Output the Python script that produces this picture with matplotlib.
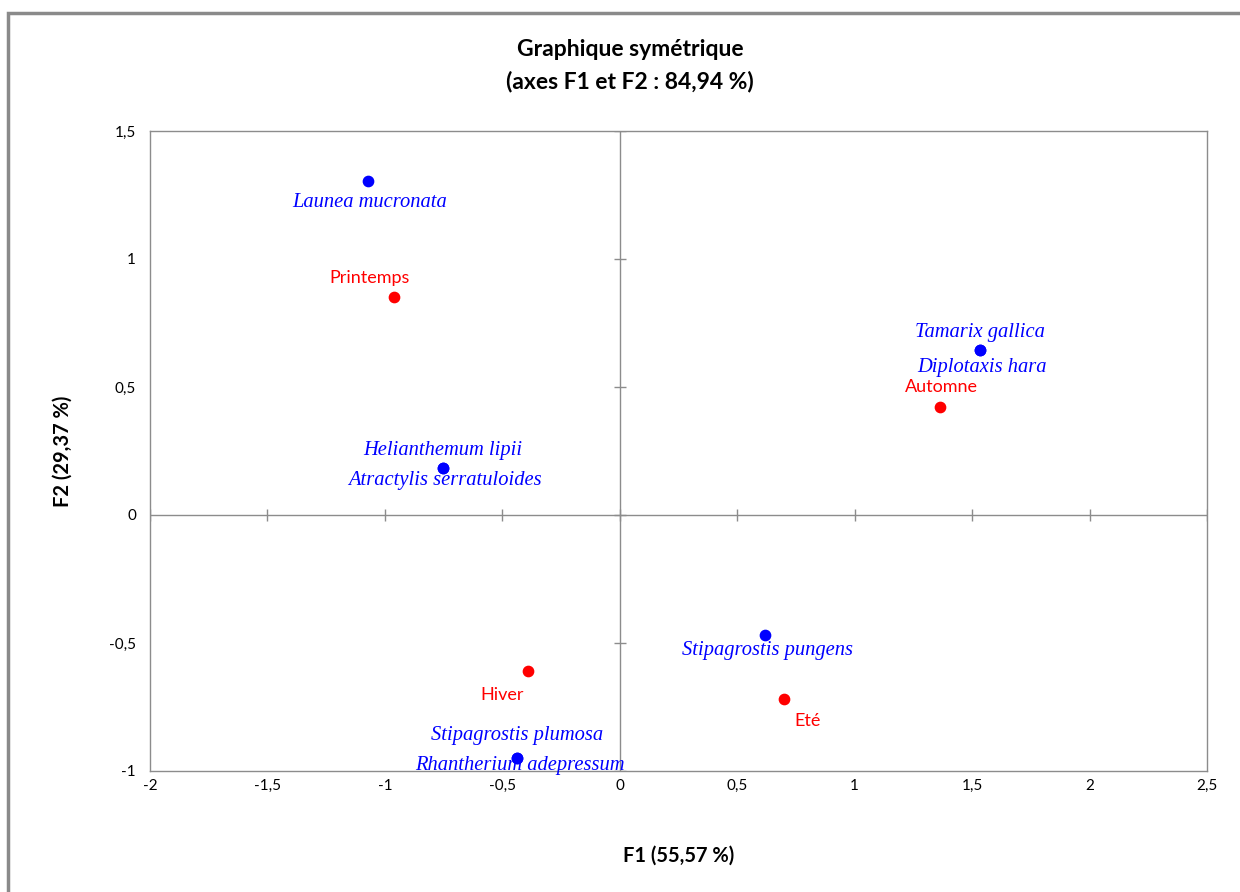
import matplotlib
matplotlib.use("Agg")
import matplotlib.pyplot as plt
import matplotlib.patches as mpatches

# species (columns) coordinates; coincident species share the same point
species = ["Launea mucronata", "Tamarix gallica", "Diplotaxis hara",
           "Helianthemum lipii", "Atractylis serratuloides", "Stipagrostis pungens",
           "Stipagrostis plumosa", "Rhantherium adepressum"]
species_f1 = [-1.072, 1.532, 1.532, -0.753, -0.753, 0.617, -0.438, -0.438]
species_f2 = [1.305, 0.645, 0.645, 0.184, 0.184, -0.469, -0.949, -0.949]

# seasons (rows) coordinates
seasons = ["Printemps", "Automne", "Hiver", "Eté"]
seasons_f1 = [-0.962, 1.362, -0.391, 0.698]
seasons_f2 = [0.852, 0.422, -0.609, -0.719]

xticks = [-2, -1.5, -1, -0.5, 0, 0.5, 1, 1.5, 2, 2.5]
yticks = [-1, -0.5, 0, 0.5, 1, 1.5]

# label offsets in pixels (layout only)
species_off = [(2, -22), (0, 17), (2, -18), (0, 17), (2, -13), (3, -15), (0, 22), (3, -8)]
seasons_off = [(-24, 19), (2, 20), (-26, -24), (24, -22)]

SANS = "Lato"
GRAY = "#8c8c8c"

fig = plt.figure(figsize=(12.4, 8.92), dpi=100)
ax = fig.add_axes([150 / 1240, 1 - 771 / 892, (1207 - 150) / 1240, (771 - 131) / 892])

# outer chart border
fig.patches.append(mpatches.Rectangle((8 / 1240, -0.2), 1.5, 1.2 - 13 / 892,
                                      transform=fig.transFigure, fill=False,
                                      edgecolor="#8a8a8a", linewidth=2.5))

ax.set_xlim(-2, 2.5)
ax.set_ylim(-1, 1.5)
ax.set_xticks(xticks)
ax.set_yticks(yticks)
fmt = lambda v: f"{v:g}".replace(".", ",")
ax.set_xticklabels([fmt(v) for v in xticks], fontfamily=SANS, fontsize=11)
ax.set_yticklabels([fmt(v) for v in yticks], fontfamily=SANS, fontsize=11)
ax.tick_params(length=0, pad=6)
ax.tick_params(axis="y", pad=10)
for s in ax.spines.values():
    s.set_color(GRAY)
    s.set_linewidth(1)

ax.axhline(0, color=GRAY, linewidth=1, zorder=1)
ax.axvline(0, color=GRAY, linewidth=1, zorder=1)
ax.plot(xticks, [0] * len(xticks), linestyle="none", marker="|", markersize=9,
        color=GRAY, markeredgewidth=1, zorder=1)
ax.plot([0] * len(yticks), yticks, linestyle="none", marker="_", markersize=9,
        color=GRAY, markeredgewidth=1, zorder=1)

ax.scatter(species_f1, species_f2, s=55, color="#0000ff", zorder=3)
ax.scatter(seasons_f1, seasons_f2, s=55, color="#ff0000", zorder=3)

for name, x, y, off in zip(species, species_f1, species_f2, species_off):
    ax.annotate(name, (x, y), xytext=off, textcoords="offset pixels",
                ha="center", va="center", color="#0000ff", fontsize=14.8,
                fontfamily="Liberation Serif", fontstyle="italic", zorder=4)

for name, x, y, off in zip(seasons, seasons_f1, seasons_f2, seasons_off):
    ax.annotate(name, (x, y), xytext=off, textcoords="offset pixels",
                ha="center", va="center", color="#ff0000", fontsize=13,
                fontfamily=SANS, zorder=4)

ax.set_xlabel("F1 (55,57 %)", fontfamily=SANS, fontsize=14.5, fontweight="bold", labelpad=38)
ax.set_ylabel("F2 (29,37 %)", fontfamily=SANS, fontsize=14.5, fontweight="bold", labelpad=26)

fig.text(630 / 1240, 1 - 50 / 892, "Graphique symétrique", ha="center", va="center",
         fontfamily=SANS, fontsize=16.5, fontweight="bold")
fig.text(630 / 1240, 1 - 82 / 892, "(axes F1 et F2 : 84,94 %)", ha="center", va="center",
         fontfamily=SANS, fontsize=16.5, fontweight="bold")

fig.savefig("out.png", dpi=100)
